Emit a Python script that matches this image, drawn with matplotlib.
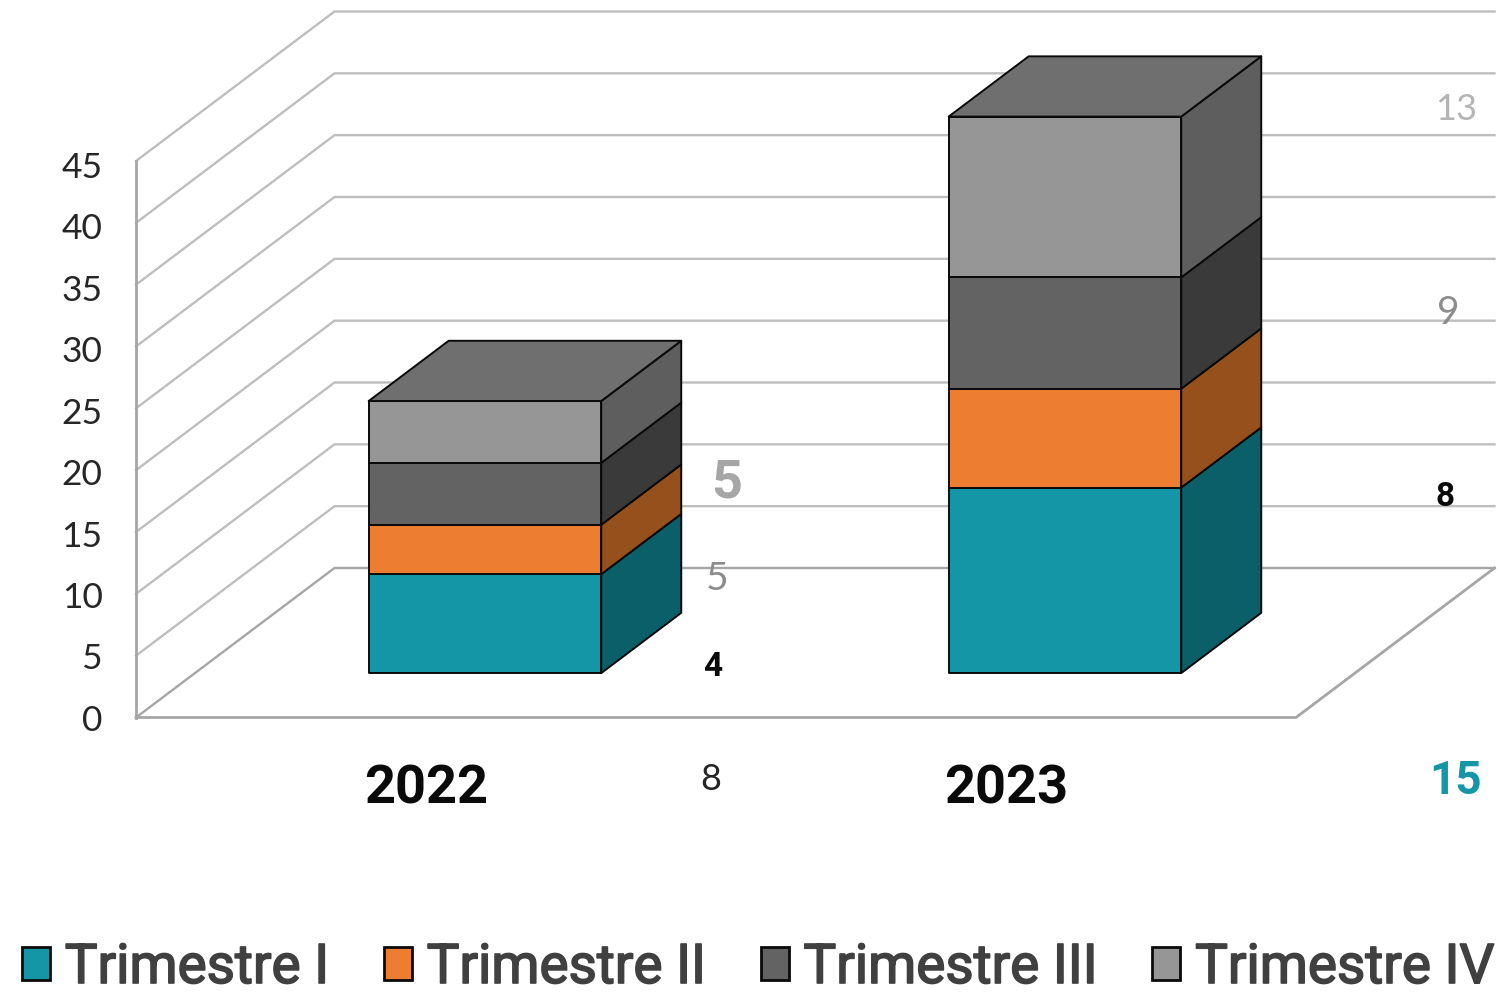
import matplotlib
matplotlib.use("Agg")
import matplotlib.pyplot as plt
import matplotlib.patheffects as pe
from matplotlib.patches import Patch, Polygon

# ---- data ----
years = ["2022", "2023"]
series = ["Trimestre I", "Trimestre II", "Trimestre III", "Trimestre IV"]
t1 = [8, 15]
t2 = [4, 8]
t3 = [5, 9]
t4 = [5, 13]
y_ticks = [0, 5, 10, 15, 20, 25, 30, 35, 40, 45]

# ---- style ----
W, H = 1498, 994
front = ["#1496A6", "#ED7D31", "#636363", "#969696"]
side = ["#0B5F69", "#96501B", "#3A3A3A", "#5E5E5E"]
top_col = "#6F6F6F"
grid_col = "#BEBEBE"
axis_col = "#A6A6A6"
edge = "#0A0A0A"
# axes box is the front plane of the 3D box
L, R, B, T = 136, 1296, 717.5, 161
px_x = (R - L) / len(years)
px_y = (B - T) / max(y_ticks)
depth_dx = 198.5 / px_x    # projection of full depth, category units
depth_dy = 149.5 / px_y    # projection of full depth, value units
bar_w = 0.401
d0, d1 = 0.297, 0.70       # bar depth range
bar_lw = 1.4


def proj(x, y, d):
    return (x + d * depth_dx, y + d * depth_dy)


fig = plt.figure(figsize=(W / 100, H / 100), dpi=100, facecolor="white")
ax = fig.add_axes([L / W, 1 - B / H, (R - L) / W, (B - T) / H])
ax.set_xlim(0, len(years))
ax.set_ylim(0, max(y_ticks))
ax.patch.set_alpha(0)
for s in ax.spines.values():
    s.set_visible(False)

nx = len(years)
ymax = max(y_ticks)
# walls
for v in y_ticks:
    pts = [proj(0, v, 0), proj(0, v, 1), proj(nx, v, 1)]
    c = axis_col if v == 0 else grid_col
    ax.plot(*zip(*pts), color=c, lw=1.7, clip_on=False, zorder=1, solid_joinstyle="miter")
ax.plot(*zip(proj(0, 0, 0), proj(nx, 0, 0), proj(nx, 0, 1)), color=axis_col, lw=2.0, clip_on=False, zorder=1.5)
ax.plot([0, 0], [0, ymax], color=axis_col, lw=2.0, clip_on=False, zorder=1.5)

# bars
stack = [t1, t2, t3, t4]
for i in range(nx):
    xc = i + 0.5
    x0, x1 = xc - bar_w / 2, xc + bar_w / 2
    base = 0
    for k, vals in enumerate(stack):
        v0, v1 = base, base + vals[i]
        ax.add_patch(Polygon([proj(x1, v0, d0), proj(x1, v0, d1), proj(x1, v1, d1), proj(x1, v1, d0)],
                             fc=side[k], ec=edge, lw=bar_lw, clip_on=False, zorder=3, joinstyle="round"))
        ax.add_patch(Polygon([proj(x0, v0, d0), proj(x1, v0, d0), proj(x1, v1, d0), proj(x0, v1, d0)],
                             fc=front[k], ec=edge, lw=bar_lw, clip_on=False, zorder=4, joinstyle="round"))
        base = v1
    ax.add_patch(Polygon([proj(x0, base, d0), proj(x1, base, d0), proj(x1, base, d1), proj(x0, base, d1)],
                         fc=top_col, ec=edge, lw=bar_lw, clip_on=False, zorder=4, joinstyle="round"))

# ticks: the source's value labels sit on a slightly tighter scale than its walls
ax.set_yticks([])
lab_ax = fig.add_axes([L / W, 1 - 717.8 / H, (R - L) / W, (717.8 - 165) / H])
lab_ax.set_ylim(0, ymax)
lab_ax.patch.set_alpha(0)
lab_ax.set_xticks([])
for s in lab_ax.spines.values():
    s.set_visible(False)
lab_ax.set_yticks(y_ticks)
lab_ax.set_yticklabels([str(v) for v in y_ticks], fontfamily="Lato", fontsize=25.5, color="#262626")
lab_ax.tick_params(axis="y", length=0, pad=24)

ax.set_xticks([i + 0.5 for i in range(nx)])
ax.set_xticklabels(years, fontfamily="Roboto", fontweight="bold", fontsize=39, color="#0A0A0A")
ax.tick_params(axis="x", length=0, pad=33)

# data labels (scattered as in the source chart): series index, year index, layout
label_layout = [
    (0, 0, 711, 777, "Lato", "normal", 26, "#262626"),
    (1, 0, 713, 663.5, "Roboto", "bold", 24, "#0A0A0A"),
    (2, 0, 717, 575, "Lato", "normal", 28, "#8C8C8C"),
    (3, 0, 727, 478, "Roboto", "bold", 39, "#A6A6A6"),
    (0, 1, 1455.5, 776.5, "Roboto", "bold", 33, "#1496A6"),
    (1, 1, 1445, 493.5, "Roboto", "bold", 24, "#0A0A0A"),
    (2, 1, 1448, 309, "Lato", "normal", 28, "#8C8C8C"),
    (3, 1, 1456, 106, "Lato", "normal", 26, "#B4B4B4"),
]
for k, i, px, py, fam, wt, fs, col in label_layout:
    fig.text(px / W, 1 - py / H, str(stack[k][i]), ha="center", va="center_baseline",
             fontfamily=fam, fontweight=wt, fontsize=fs, color=col)

# legend
handles = [Patch(fc=c, ec="#0A0A0A", lw=2) for c in front]
leg = fig.legend(handles, series, ncol=4, loc="lower left", bbox_to_anchor=(22 / W, 0.0),
                 frameon=False, borderpad=0, borderaxespad=0,
                 handlelength=0.51, handleheight=0.56, handletextpad=0.27, columnspacing=1.0,
                 prop={"family": "Roboto", "size": 39.5}, labelcolor="#404040")
for t in leg.get_texts():
    t.set_path_effects([pe.withStroke(linewidth=1.2, foreground="#404040")])

fig.savefig("out.png", dpi=100, facecolor="white")
